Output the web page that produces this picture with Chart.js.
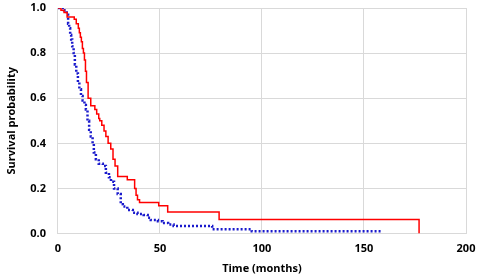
<!DOCTYPE html>
<html>
<head>
  <title>Survival curves</title>
  <script src="https://cdn.jsdelivr.net/npm/chart.js"></script>
  <style>
    body { margin: 0; background: #fff; }
    .chart-container { position: relative; width: 479px; height: 276px; }
  </style>
</head>
<body>
  <div class="chart-container">
    <canvas id="kmChart"></canvas>
  </div>
  <script>
    // Red group (solid): event times (months) and survival after each step
    const redTimes = [0, 1.5, 3, 4.5, 8, 9, 10, 10.5, 11, 11.5, 12, 12.5, 13, 13.5, 14, 14.8, 16.1, 18.1, 19, 20, 20.5, 21.5, 22.6, 23.5, 24.6, 25.9, 27, 28, 29.3, 34, 37.6, 38.3, 39, 40, 49.4, 53.8, 79, 177];
    const redSurv  = [1.0, 0.99, 0.98, 0.96, 0.95, 0.93, 0.91, 0.89, 0.87, 0.85, 0.82, 0.80, 0.77, 0.72, 0.67, 0.60, 0.567, 0.55, 0.53, 0.51, 0.50, 0.48, 0.455, 0.43, 0.40, 0.375, 0.33, 0.30, 0.253, 0.239, 0.20, 0.17, 0.15, 0.138, 0.123, 0.096, 0.062, 0];

    // Blue group (dotted)
    const blueTimes = [0, 3, 4.3, 5, 5.5, 6, 6.5, 7, 7.7, 8.3, 9, 9.8, 10.5, 11.3, 12.1, 13, 13.7, 14.5, 15.3, 16.1, 17, 17.6, 18.6, 20, 22, 23.5, 25, 26, 27.5, 29.3, 30.8, 31.8, 34, 36.7, 39, 42, 44, 45.5, 49, 51.3, 54, 56.7, 75.6, 95, 159];
    const blueSurv  = [1.0, 0.99, 0.97, 0.93, 0.91, 0.88, 0.86, 0.83, 0.80, 0.75, 0.71, 0.67, 0.64, 0.61, 0.59, 0.57, 0.55, 0.50, 0.46, 0.43, 0.40, 0.36, 0.33, 0.31, 0.30, 0.27, 0.25, 0.23, 0.20, 0.175, 0.13, 0.12, 0.105, 0.092, 0.087, 0.083, 0.07, 0.06, 0.055, 0.047, 0.04, 0.034, 0.019, 0.01, 0.01];

    const xTicks = [0, 50, 100, 150, 200];
    const yTicks = [0, 0.2, 0.4, 0.6, 0.8, 1.0];

    const toPoints = (ts, ss) => ts.map((t, i) => ({ x: t, y: ss[i] }));

    const tickFont = { family: "'Open Sans', sans-serif", size: 11, weight: 'bold' };
    const gridColor = '#d9d9d9';

    const ctx = document.getElementById('kmChart').getContext('2d');
    new Chart(ctx, {
      type: 'line',
      data: {
        datasets: [
          {
            label: 'Red',
            data: toPoints(redTimes, redSurv),
            borderColor: '#ff0000',
            borderWidth: 1.5,
            stepped: true,
            pointRadius: 0,
            fill: false
          },
          {
            label: 'Blue',
            data: toPoints(blueTimes, blueSurv),
            borderColor: '#1a1acc',
            borderWidth: 2.5,
            borderDash: [2, 2],
            stepped: true,
            pointRadius: 0,
            fill: false
          }
        ]
      },
      options: {
        responsive: true,
        maintainAspectRatio: false,
        animation: false,
        layout: { autoPadding: false, padding: { left: 5, right: 13, top: 8, bottom: 1 } },
        scales: {
          x: {
            type: 'linear',
            min: 0,
            max: 200,
            afterBuildTicks: axis => { axis.ticks = xTicks.map(v => ({ value: v })); },
            afterFit: axis => { axis.paddingLeft = 0; axis.paddingRight = 0; },
            ticks: { font: tickFont, color: '#000', padding: 9 },
            grid: { color: gridColor, drawTicks: false },
            border: { color: gridColor },
            title: { display: true, text: 'Time (months)', font: tickFont, color: '#000', padding: { top: -3, bottom: 0 } }
          },
          y: {
            min: 0,
            max: 1,
            afterBuildTicks: axis => { axis.ticks = yTicks.map(v => ({ value: v })); },
            afterFit: axis => { axis.paddingTop = 0; axis.paddingBottom = 0; },
            ticks: { font: tickFont, color: '#000', padding: 12, callback: v => v.toFixed(1) },
            grid: { color: gridColor, drawTicks: false },
            border: { color: gridColor },
            title: { display: true, text: 'Survival probability', font: tickFont, color: '#000', padding: { top: 0, bottom: 0 } }
          }
        },
        plugins: {
          legend: { display: false },
          tooltip: { enabled: false }
        }
      }
    });
  </script>
</body>
</html>
